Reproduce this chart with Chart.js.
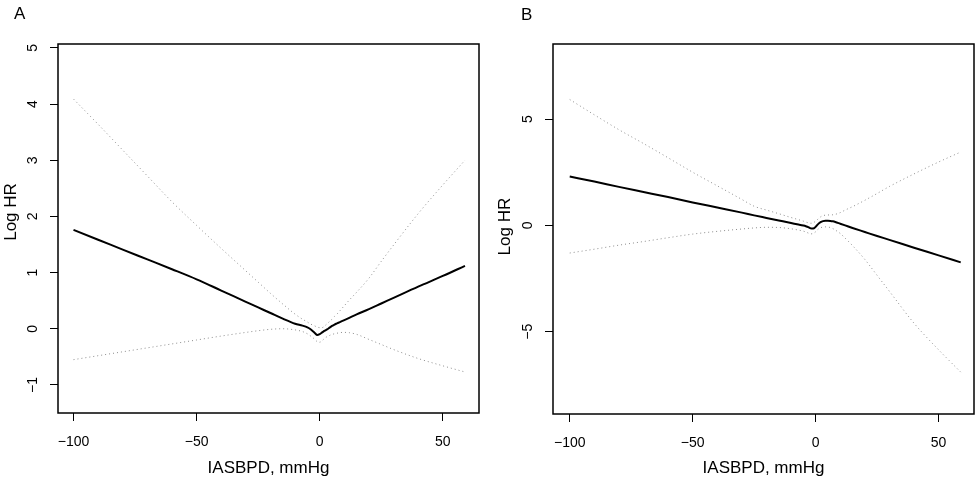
<!DOCTYPE html>
<html>
<head>
<meta charset="utf-8">
<script src="https://cdn.jsdelivr.net/npm/chart.js@4"></script>
<style>
  body { margin: 0; background: #fff; }
  .panel { position: absolute; top: 0; }
  .tag { position: absolute; font: 17px "Liberation Sans", Arial, sans-serif; color: #000; }
</style>
</head>
<body>
<canvas id="chartA" class="panel" style="left:0" width="490" height="481"></canvas>
<canvas id="chartB" class="panel" style="left:490px" width="489" height="481"></canvas>
<div class="tag" style="left:14px;top:4px">A</div>
<div class="tag" style="left:521px;top:5px">B</div>
<script>
const xValues = [-100, -90, -80, -70, -60, -50, -40, -30, -25, -20, -15, -10, -7, -5, -4, -3, -2, -1,
  0, 1, 2, 3, 4, 5, 6, 7, 8, 10, 12, 15, 20, 25, 30, 40, 50, 59];

// panel A
const fitA = [1.76, 1.585, 1.41, 1.235, 1.06, 0.88, 0.68, 0.48, 0.38, 0.28, 0.18, 0.09, 0.055, 0.025, 0.0, -0.035, -0.075, -0.11,
  -0.095, -0.065, -0.035, -0.01, 0.02, 0.05, 0.075, 0.095, 0.115, 0.155, 0.195, 0.255, 0.35, 0.45, 0.55, 0.75, 0.94, 1.12];
const upperA = [4.09, 3.64, 3.18, 2.72, 2.26, 1.84, 1.43, 1.03, 0.83, 0.63, 0.44, 0.26, 0.17, 0.12, 0.09, 0.07, 0.05, 0.03,
  0.02, 0.02, 0.05, 0.09, 0.13, 0.17, 0.22, 0.26, 0.31, 0.41, 0.51, 0.65, 0.9, 1.2, 1.49, 2.05, 2.56, 3.0];
const lowerA = [-0.55, -0.48, -0.41, -0.34, -0.27, -0.2, -0.13, -0.065, -0.035, -0.01, 0.0, -0.02, -0.05, -0.09, -0.12, -0.15, -0.19, -0.23,
  -0.24, -0.21, -0.17, -0.14, -0.12, -0.1, -0.09, -0.08, -0.07, -0.065, -0.07, -0.1, -0.19, -0.28, -0.37, -0.53, -0.66, -0.77];

// panel B
const fitB = [2.30, 2.06, 1.81, 1.57, 1.33, 1.08, 0.84, 0.60, 0.47, 0.35, 0.23, 0.11, 0.04, -0.01, -0.04, -0.08, -0.14, -0.15,
  -0.07, 0.06, 0.15, 0.2, 0.22, 0.22, 0.21, 0.19, 0.16, 0.08, 0.0, -0.12, -0.31, -0.5, -0.68, -1.05, -1.41, -1.74];
const upperB = [5.92, 5.2, 4.5, 3.85, 3.18, 2.5, 1.86, 1.22, 0.9, 0.72, 0.55, 0.37, 0.27, 0.2, 0.16, 0.12, 0.1, 0.12,
  0.2, 0.3, 0.4, 0.46, 0.48, 0.49, 0.49, 0.5, 0.52, 0.6, 0.72, 0.88, 1.18, 1.5, 1.83, 2.42, 2.98, 3.45];
const lowerB = [-1.3, -1.12, -0.93, -0.76, -0.58, -0.41, -0.28, -0.17, -0.12, -0.09, -0.1, -0.16, -0.22, -0.27, -0.31, -0.36, -0.4, -0.38,
  -0.3, -0.18, -0.11, -0.08, -0.07, -0.08, -0.1, -0.15, -0.22, -0.38, -0.6, -0.95, -1.6, -2.35, -3.1, -4.6, -5.85, -6.9];

const xTicks = [-100, -50, 0, 50];
const yTicksA = [-1, 0, 1, 2, 3, 4, 5];
const yTicksB = [-5, 0, 5];

const fontFamily = "'Liberation Sans', Arial, sans-serif";
const minus = (v) => String(v).replace("-", "\u2212");

function toPoints(ys) {
  return xValues.map((x, i) => ({ x: x, y: ys[i] }));
}

// box round the plot region, like R's box()
const frame = {
  id: "frame",
  afterDraw(chart) {
    const { ctx, chartArea: a } = chart;
    ctx.save();
    ctx.strokeStyle = "#000";
    ctx.lineWidth = 1.5;
    ctx.strokeRect(a.left, a.top, a.right - a.left, a.bottom - a.top);
    ctx.restore();
  },
};

function curve(ys, solid) {
  return {
    data: toPoints(ys),
    showLine: true,
    borderColor: solid ? "#000" : "#8c8c8c",
    borderWidth: solid ? 2 : 1,
    borderDash: solid ? [] : [1, 3],
    pointRadius: 0,
    cubicInterpolationMode: "monotone",
  };
}

function drawPanel(id, p) {
  const ctx = document.getElementById(id).getContext("2d");
  return new Chart(ctx, {
    type: "scatter",
    data: {
      datasets: [curve(p.lower, false), curve(p.upper, false), curve(p.fit, true)],
    },
    options: {
      responsive: false,
      animation: false,
      events: [],
      layout: { padding: { top: 44, right: p.right, left: 0, bottom: 0 } },
      plugins: { legend: { display: false }, tooltip: { enabled: false } },
      scales: {
        x: {
          type: "linear",
          min: p.xMin,
          max: p.xMax,
          afterBuildTicks: (s) => { s.ticks = xTicks.map((v) => ({ value: v })); },
          afterFit: (s) => { s.height = p.xHeight; },
          border: { display: false },
          grid: { drawOnChartArea: false, tickLength: 8, color: "#000" },
          ticks: { color: "#000", padding: 13, font: { family: fontFamily, size: 14 }, callback: minus },
          title: {
            display: true,
            text: "IASBPD, mmHg",
            color: "#000",
            font: { family: fontFamily, size: 17 },
            padding: { top: 0, bottom: 2.5 },
          },
        },
        y: {
          type: "linear",
          min: p.yMin,
          max: p.yMax,
          afterBuildTicks: (s) => { s.ticks = p.yTicks.map((v) => ({ value: v })); },
          afterFit: (s) => { s.width = p.yWidth; },
          border: { display: false },
          grid: { drawOnChartArea: false, tickLength: 8, color: "#000" },
          ticks: {
            color: "#000",
            padding: 9,
            minRotation: 90,
            maxRotation: 90,
            crossAlign: "center",
            font: { family: fontFamily, size: 14 },
            callback: minus,
          },
          title: {
            display: true,
            text: p.yTitle,
            color: "#000",
            font: { family: fontFamily, size: 17 },
            padding: { top: p.yTitlePad, bottom: 0 },
          },
        },
      },
    },
    plugins: [frame],
  });
}

// the A label sits a little above the middle of its axis in the original
drawPanel("chartA", {
  fit: fitA, upper: upperA, lower: lowerA, yTicks: yTicksA,
  xMin: -106.3, xMax: 64.7, yMin: -1.5, yMax: 5.07,
  right: 11, yWidth: 58, xHeight: 68, yTitlePad: 1, yTitle: "       Log HR",
});
drawPanel("chartB", {
  fit: fitB, upper: upperB, lower: lowerB, yTicks: yTicksB,
  xMin: -106.8, xMax: 64.4, yMin: -8.87, yMax: 8.53,
  right: 5, yWidth: 63, xHeight: 67, yTitlePad: 5.6, yTitle: " Log HR",
});
</script>
</body>
</html>
